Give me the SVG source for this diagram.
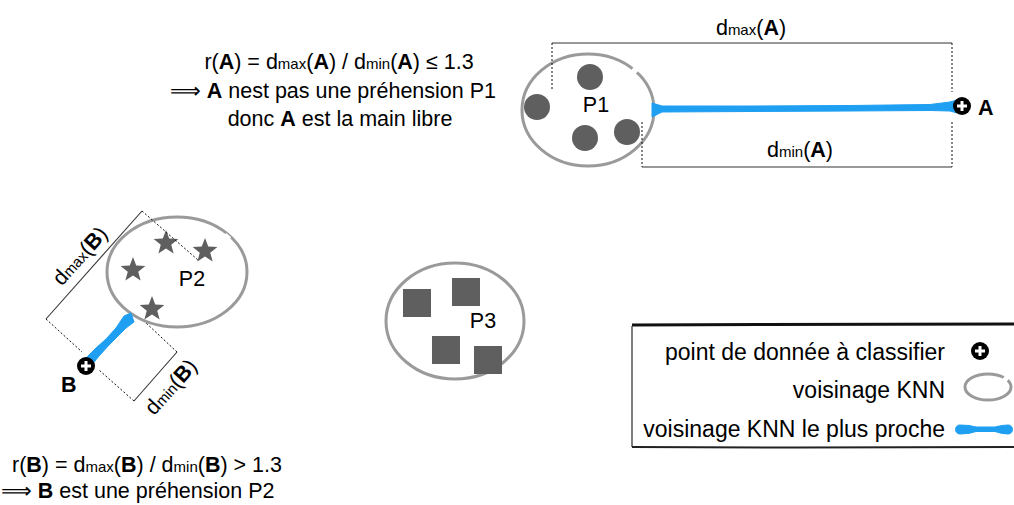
<svg xmlns="http://www.w3.org/2000/svg" width="1014" height="505" viewBox="0 0 1014 505">
<style>
  text { font-family: "Liberation Sans", Arial, "DejaVu Sans", sans-serif; font-size: 21.5px; fill: #000; }
  .b { font-weight: bold; }
  .sub { font-size: 15px; }
  .leg { font-size: 23px; }
  .bot { font-size: 21.5px; }
  .hood { fill: #fff; stroke: #9a9a9a; stroke-width: 3; }
  .gap { fill: none; stroke: #fff; stroke-width: 5; }
  .dot { fill: #5f5f5f; }
  .dim { fill: none; stroke: #333; stroke-width: 1.1; }
  .dash { fill: none; stroke: #111; stroke-width: 1; stroke-dasharray: 2 2; }
  .blue { fill: #1e9ff2; stroke: #1e9ff2; stroke-width: 1; stroke-linejoin: round; }
</style>
<defs>
  <path id="star" d="M0,-13 L3.23,-4.45 L12.36,-4.02 L5.23,1.7 L7.64,10.52 L0,5.5 L-7.64,10.52 L-5.23,1.7 L-12.36,-4.02 L-3.23,-4.45 Z" fill="#5f5f5f"/>
  <g id="plus">
    <circle r="9" fill="#000"/>
    <path d="M-5,0 H5 M0,-5 V5" stroke="#fff" stroke-width="3"/>
  </g>
</defs>
<rect width="1014" height="505" fill="#fff"/>

<g id="text-A">
  <text x="339" y="69" text-anchor="middle">r(<tspan class="b">A</tspan>) = d<tspan class="sub">max</tspan>(<tspan class="b">A</tspan>) / d<tspan class="sub">min</tspan>(<tspan class="b">A</tspan>) ≤ 1.3</text>
  <text x="333" y="98" text-anchor="middle">⟹ <tspan class="b">A</tspan> nest pas une préhension P1</text>
  <text x="340" y="126" text-anchor="middle">donc <tspan class="b">A</tspan> est la main libre</text>
</g>

<g id="cluster-P1">
  <ellipse class="hood" cx="588" cy="110" rx="66" ry="56"/>
  <path class="gap" d="M632.5,68.6 L637,72.4"/>
  <circle class="dot" cx="590" cy="77" r="13"/>
  <circle class="dot" cx="537" cy="107" r="13"/>
  <circle class="dot" cx="585" cy="138" r="13"/>
  <circle class="dot" cx="627" cy="132" r="13"/>
  <text x="596" y="112" text-anchor="middle">P1</text>
</g>

<g id="cluster-P2">
  <ellipse class="hood" cx="177" cy="272" rx="70" ry="55"/>
  <path class="gap" d="M224.5,234.8 L229.5,239.2"/>
  <use href="#star" x="166" y="243"/>
  <use href="#star" x="205" y="251"/>
  <use href="#star" x="133" y="270"/>
  <use href="#star" x="152" y="309"/>
  <text x="192" y="286" text-anchor="middle">P2</text>
</g>

<g id="cluster-P3">
  <ellipse class="hood" cx="455" cy="321" rx="69" ry="58"/>
  <rect class="dot" x="403" y="289" width="28" height="28"/>
  <rect class="dot" x="452" y="278" width="28" height="28"/>
  <rect class="dot" x="432" y="336" width="28" height="28"/>
  <rect class="dot" x="474" y="346" width="28" height="28"/>
  <text x="483" y="328" text-anchor="middle">P3</text>
</g>

<g id="connectors">
  <path class="blue" d="M652,103 L662,106 L750,106 L850,105.5 L930,104.5 L950,102 L957,100 L957,113 L950,111 L930,110.5 L850,111 L750,111.5 L662,112 L652,117 Z"/>
  <path class="blue" d="M85,359 L96,348 L106,339 L116,328 L124,316 L131,313 L134,322 L126,328 L117,337 L110,344 L99,356 L91,366 Z"/>
  <!-- dmax(A) -->
  <path class="dim" d="M552,43 H952"/>
  <path class="dash" d="M552,43 V90 M952,43 V92"/>
  <!-- dmin(A) -->
  <path class="dim" d="M642,167 H952"/>
  <path class="dash" d="M642,122 V167 M952,122 V167"/>
  <!-- dmax(B) -->
  <path class="dim" d="M46,319 L142,211"/>
  <path class="dash" d="M142,211 L198,260 M46,319 L82,352"/>
  <!-- dmin(B) -->
  <path class="dim" d="M134,401 L177,352"/>
  <path class="dash" d="M177,352 L145,322 M134,401 L99,370"/>
</g>

<g id="labels">
  <text x="751" y="35" text-anchor="middle">d<tspan class="sub">max</tspan>(<tspan class="b">A</tspan>)</text>
  <text x="800" y="157" text-anchor="middle">d<tspan class="sub">min</tspan>(<tspan class="b">A</tspan>)</text>
  <text transform="translate(80,256) rotate(-48)" x="0" y="7" text-anchor="middle">d<tspan class="sub">max</tspan>(<tspan class="b">B</tspan>)</text>
  <text transform="translate(171,387) rotate(-48)" x="0" y="7" text-anchor="middle">d<tspan class="sub">min</tspan>(<tspan class="b">B</tspan>)</text>
</g>

<g id="point-A">
  <use href="#plus" x="962" y="106"/>
  <text class="b" x="978" y="115">A</text>
</g>

<g id="point-B">
  <use href="#plus" x="86" y="366"/>
  <text class="b" x="61" y="392">B</text>
</g>

<g id="text-B">
  <text class="bot" x="12" y="472">r(<tspan class="b">B</tspan>) = d<tspan class="sub">max</tspan>(<tspan class="b">B</tspan>) / d<tspan class="sub">min</tspan>(<tspan class="b">B</tspan>) &gt; 1.3</text>
  <text class="bot" x="1" y="498">⟹ <tspan class="b">B</tspan> est une préhension P2</text>
</g>

<g id="legend">
  <path d="M632,325 L760,324.5 L1014,324" fill="none" stroke="#111" stroke-width="3"/>
  <path d="M632,326 V447" fill="none" stroke="#555" stroke-width="1.5"/>
  <path d="M632,447 L800,447.5 L1014,447" fill="none" stroke="#222" stroke-width="2"/>
  <text class="leg" x="945" y="360" text-anchor="end">point de donnée à classifier</text>
  <text class="leg" x="945" y="398" text-anchor="end">voisinage KNN</text>
  <text class="leg" x="945" y="437" text-anchor="end">voisinage KNN le plus proche</text>
  <use href="#plus" x="980" y="351"/>
  <ellipse cx="988" cy="387" rx="23" ry="13" fill="none" stroke="#9a9a9a" stroke-width="3"/>
  <path class="gap" d="M1004,377 L1008,380" stroke-width="3"/>
  <path class="blue" d="M960,425 Q970,425 976,427 L995,427 Q1002,425 1008,425 A4.5,4.5 0 0 1 1008,434 Q1002,434 995,431.5 L976,431.5 Q970,434 960,434 A4.5,4.5 0 0 1 960,425 Z"/>
</g>
</svg>
